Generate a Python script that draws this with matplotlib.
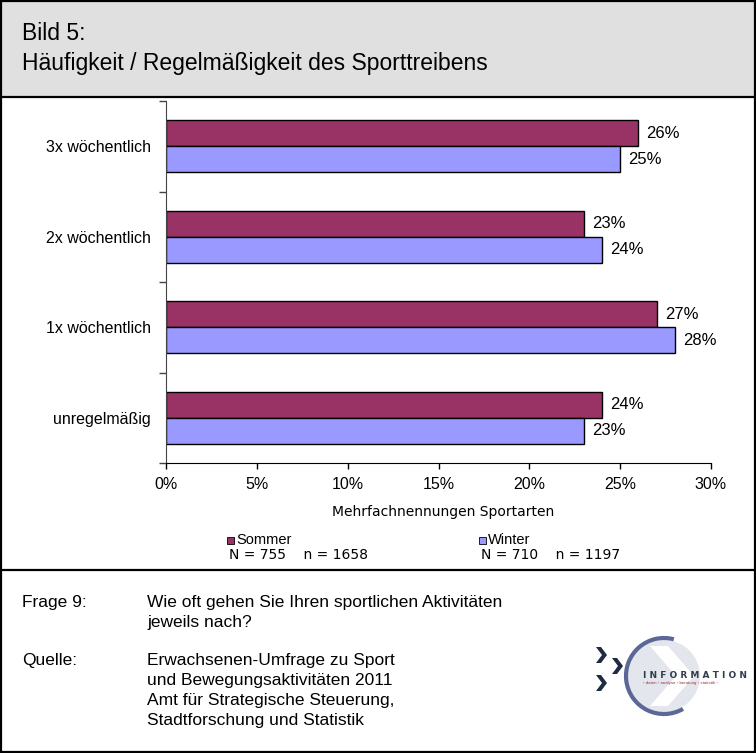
import matplotlib
matplotlib.use("Agg")
import matplotlib.pyplot as plt
import matplotlib.patches as mpatches
import numpy as np

# data
categories = ['3x wöchentlich', '2x wöchentlich', '1x wöchentlich', 'unregelmäßig']
sommer = [26, 23, 27, 24]
winter = [25, 24, 28, 23]
x_ticks = [0, 5, 10, 15, 20, 25, 30]

c_sommer = '#993366'
c_winter = '#9999ff'

W, H = 756, 753
plt.rcParams['font.family'] = ['Liberation Sans', 'DejaVu Sans']
fig = plt.figure(figsize=(W / 100, H / 100), dpi=100)


def fx(px):
    return px / W


def fy(py):
    return 1 - py / H


def hline(y, x0=0, x1=W, lw=1.6):
    fig.add_artist(plt.Line2D([fx(x0), fx(x1)], [fy(y), fy(y)], color='black', lw=lw,
                              transform=fig.transFigure, solid_capstyle='butt'))


def vline(x, y0=0, y1=H, lw=1.6):
    fig.add_artist(plt.Line2D([fx(x), fx(x)], [fy(y0), fy(y1)], color='black', lw=lw,
                              transform=fig.transFigure, solid_capstyle='butt'))


# header box + frame
fig.patches.append(mpatches.Rectangle((0, fy(97)), 1, 1 - fy(97), transform=fig.transFigure,
                                      facecolor='#e0e0e0', edgecolor='none', zorder=0))
hline(97)
hline(570)
hline(1)
hline(H - 1)
vline(1)
vline(W - 1)

fig.text(fx(22), fy(40), 'Bild 5:', fontsize=16.5, va='baseline', ha='left')
fig.text(fx(22), fy(70), 'Häufigkeit / Regelmäßigkeit des Sporttreibens', fontsize=16.5,
         va='baseline', ha='left')

# chart
ax = fig.add_axes([fx(166), fy(463), fx(711) - fx(166), fy(101) - fy(463)])
centers = np.arange(len(categories))[::-1] + 0.5
h = 0.29
ax.barh(centers + h / 2, sommer, height=h, color=c_sommer, edgecolor='black', lw=1, label='Sommer')
ax.barh(centers - h / 2, winter, height=h, color=c_winter, edgecolor='black', lw=1, label='Winter')
for yc, s, w in zip(centers, sommer, winter):
    ax.text(s + 0.45, yc + h / 2, f'{s}%', va='center', ha='left', fontsize=12)
    ax.text(w + 0.45, yc - h / 2, f'{w}%', va='center', ha='left', fontsize=12)

ax.set_xlim(0, 30)
ax.set_ylim(0, len(categories))
ax.set_xticks(x_ticks)
ax.set_xticklabels([f'{t}%' for t in x_ticks], fontsize=11.5)
ax.set_yticks(np.arange(len(categories) + 1))
ax.set_yticklabels([])
ax.set_yticks(centers, minor=True)
ax.set_yticklabels(categories, minor=True, fontsize=11.5)
ax.tick_params(axis='y', which='major', length=5, color='#444444', width=1)
ax.tick_params(axis='y', which='minor', length=0, pad=11)
ax.tick_params(axis='x', length=4, width=1, pad=6)
for s in ('top', 'right'):
    ax.spines[s].set_visible(False)
ax.spines['left'].set_color('#444444')
ax.spines['bottom'].set_color('black')

fig.text(fx(443), fy(512), 'Mehrfachnennungen Sportarten', fontsize=10, family='DejaVu Sans',
         ha='center', va='center')

# legend
for x0, col, lab, ntxt in ((227, c_sommer, 'Sommer', 'N = 755    n = 1658'),
                           (479, c_winter, 'Winter', 'N = 710    n = 1197')):
    fig.patches.append(mpatches.Rectangle((fx(x0), fy(544)), fx(7), fy(537) - fy(544),
                                          transform=fig.transFigure, facecolor=col,
                                          edgecolor='black', lw=0.6))
    fig.text(fx(x0 + 9), fy(540), lab, fontsize=10.5, ha='left', va='center')
    fig.text(fx(x0 + 2), fy(555), ntxt, fontsize=10, family='DejaVu Sans', ha='left', va='center')

# footer
foot = [(603, 'Frage 9:', 'Wie oft gehen Sie Ihren sportlichen Aktivitäten'),
        (623, '', 'jeweils nach?'),
        (661, 'Quelle:', 'Erwachsenen-Umfrage zu Sport'),
        (681, '', 'und Bewegungsaktivitäten 2011'),
        (701, '', 'Amt für Strategische Steuerung,'),
        (721, '', 'Stadtforschung und Statistik')]
for y, a, b in foot:
    if a:
        fig.text(fx(22), fy(y), a, fontsize=12.5, ha='left', va='center')
    fig.text(fx(147), fy(y), b, fontsize=12.5, ha='left', va='center')

# logo (rough), y in negative pixel units so angles read normally
lax = fig.add_axes([fx(588), fy(722), fx(168), fy(634) - fy(722)])
lax.set_xlim(588, 756)
lax.set_ylim(-722, -634)
lax.axis('off')
lax.add_patch(mpatches.Circle((664, -676), 36, facecolor='#e4e6ee', edgecolor='none'))
lax.add_patch(mpatches.Polygon([(650, -646), (668, -646), (694, -676), (668, -706), (650, -706),
                                (676, -676)], facecolor='white', edgecolor='none'))
lax.add_patch(mpatches.Arc((664, -676), 76, 76, theta1=75, theta2=300, color='#5b6796', lw=3))
for cx, cy in ((596, -655), (612, -666), (596, -683)):
    lax.add_patch(mpatches.Polygon([(cx, cy + 8), (cx + 5, cy + 8), (cx + 11, cy), (cx + 5, cy - 8),
                                    (cx, cy - 8), (cx + 6, cy)], facecolor='#1f2a44', edgecolor='none'))
lax.text(643, -675, 'I N F O R M A T I O N', fontsize=6.5, color='#333a4a', ha='left', va='center',
         family='DejaVu Sans', weight='bold')
lax.text(643, -683, '‹ daten › analyse › beratung › statistik ›', fontsize=3.2, color='#a0303f',
         ha='left', va='center')

fig.savefig('out.png', dpi=100)
